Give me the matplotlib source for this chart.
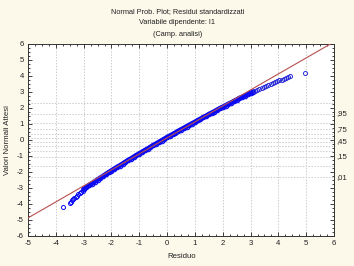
import matplotlib
matplotlib.use("Agg")
import matplotlib.pyplot as plt
from matplotlib.ticker import MultipleLocator
import matplotlib.transforms as mtrans

# ---- data ----
title_lines = ["Normal Prob. Plot; Residui standardizzati",
               "Variabile dipendente: I1",
               "(Camp. analisi)"]
x_label = "Residuo"
y_label = "Valori Normali Attesi"

# dense central band: residual vs expected normal value
band_res = [-3.0, -2.9, -2.8, -2.7, -2.6, -2.5, -2.4, -2.3, -2.2, -2.1,
            -2.0, -1.9, -1.8, -1.7, -1.6, -1.5, -1.4, -1.3, -1.2, -1.1,
            -1.0, -0.9, -0.8, -0.7, -0.6, -0.5, -0.4, -0.3, -0.2, -0.1,
            0.0, 0.1, 0.2, 0.3, 0.4, 0.5, 0.6, 0.7, 0.8, 0.9,
            1.0, 1.1, 1.2, 1.3, 1.4, 1.5, 1.6, 1.7, 1.8, 1.9,
            2.0, 2.1, 2.2, 2.3, 2.4, 2.5, 2.6, 2.7, 2.8, 2.9,
            3.0, 3.1]
band_exp = [-3.08, -2.96, -2.84, -2.72, -2.60, -2.48, -2.37, -2.26, -2.14, -2.03,
            -1.92, -1.81, -1.70, -1.60, -1.49, -1.38, -1.27, -1.17, -1.06, -0.96,
            -0.85, -0.75, -0.65, -0.55, -0.45, -0.34, -0.24, -0.14, -0.04, 0.06,
            0.16, 0.26, 0.35, 0.45, 0.55, 0.65, 0.74, 0.84, 0.93, 1.03,
            1.12, 1.22, 1.31, 1.41, 1.50, 1.60, 1.69, 1.78, 1.88, 1.97,
            2.06, 2.15, 2.24, 2.33, 2.42, 2.51, 2.60, 2.68, 2.77, 2.85,
            2.94, 3.02]

# sparse tail points
low_res = [-3.73, -3.49, -3.45, -3.41, -3.37, -3.33, -3.29, -3.24, -3.19, -3.14, -3.09, -3.04]
low_exp = [-4.17, -3.96, -3.85, -3.76, -3.68, -3.61, -3.54, -3.47, -3.40, -3.33, -3.24, -3.16]
high_res = [3.16, 3.24, 3.32, 3.40, 3.49, 3.56, 3.64, 3.72, 3.80, 3.88, 3.96, 4.04,
            4.12, 4.20, 4.28, 4.36, 4.43, 4.95]
high_exp = [3.07, 3.13, 3.20, 3.26, 3.32, 3.38, 3.44, 3.50, 3.56, 3.61, 3.67, 3.73,
            3.78, 3.83, 3.88, 3.93, 3.99, 4.19]

# reference line y = a + b*x
line_x = [-5.0, 6.0]
line_intercept = 0.13
line_slope = 1.0

# right-axis probability levels (z values) and grid levels
prob_labels = [",95", ",75", ",45", ",15", ",01"]
prob_label_z = [1.645, 0.674, -0.126, -1.036, -2.326]
prob_grid_z = [2.326, 1.645, 1.036, 0.674, 0.385, 0.126, -0.126, -0.385,
               -0.674, -1.036, -1.645, -2.326]

x_ticks = [-5, -4, -3, -2, -1, 0, 1, 2, 3, 4, 5, 6]
y_ticks = [6, 5, 4, 3, 2, 1, 0, -1, -2, -3, -4, -5, -6]

# ---- figure ----
W, H = 354, 266
fig = plt.figure(figsize=(W / 100, H / 100), dpi=100, facecolor="#fcf8ea")
plt.rcParams['font.family'] = ['Liberation Sans', 'DejaVu Sans']

left, right, top, bottom = 28, 334, 44, 236
ax = fig.add_axes([left / W, 1 - bottom / H, (right - left) / W, (bottom - top) / H])
ax.set_facecolor("white")
ax.set_xlim(-5, 6)
ax.set_ylim(-6, 6)

# grid
for xv in x_ticks[1:-1]:
    ax.axvline(xv, color="#cccccc", lw=0.7, ls=(0, (1.5, 1.5)), zorder=0)
for zv in prob_grid_z:
    ax.axhline(zv, color="#cccccc", lw=0.7, ls=(0, (1.5, 1.5)), zorder=0)

blue = "#0a0af5"
# dense band
ax.plot(band_res, band_exp, color=blue, lw=3.6, solid_capstyle="round", zorder=2)
ax.plot(band_res, band_exp, ls="none", marker="o", ms=3.2, mfc="none",
        mec=blue, mew=0.8, zorder=2)
# tails
ax.plot(low_res, low_exp, ls="none", marker="o", ms=2.9, mfc="none",
        mec=blue, mew=0.7, zorder=2)
ax.plot(high_res, high_exp, ls="none", marker="o", ms=2.9, mfc="none",
        mec="#2a2ad8", mew=0.7, zorder=2)

# reference line
ly = [line_intercept + line_slope * v for v in line_x]
ax.plot(line_x, ly, color="#b8504e", lw=0.8, zorder=3)

# ticks
ax.set_xticks(x_ticks)
ax.set_xticklabels([str(v) for v in x_ticks])
ax.set_yticks(y_ticks)
ax.set_yticklabels([str(v) for v in y_ticks])
ax.xaxis.set_minor_locator(MultipleLocator(0.25))
ax.yaxis.set_minor_locator(MultipleLocator(0.25))
ax.tick_params(which="both", direction="in", top=True, right=True,
               labelsize=5.6, colors="#222222", width=0.6)
ax.tick_params(which="major", length=3, pad=3)
ax.tick_params(which="minor", length=1.5)
for s in ax.spines.values():
    s.set_linewidth(0.7)
    s.set_color("#333333")

# right probability labels
trans = mtrans.blended_transform_factory(ax.transAxes, ax.transData)
for lab, z in zip(prob_labels, prob_label_z):
    ax.text(1.006, z, lab, transform=trans, ha="left", va="center",
            fontsize=5.6, color="#222222")

# titles and labels
for i, t in enumerate(title_lines):
    fig.text(177.5 / W, 1 - (12 + 11 * i) / H, t, ha="center", va="center",
             fontsize=5.3, color="#222222")
fig.text(182 / W, 1 - 257 / H, x_label, ha="center", va="center",
         fontsize=5.6, color="#222222")
fig.text(8 / W, 1 - 140 / H, y_label, ha="center", va="center",
         rotation=90, fontsize=5.6, color="#222222")

fig.savefig("out.png", dpi=100, facecolor=fig.get_facecolor())
